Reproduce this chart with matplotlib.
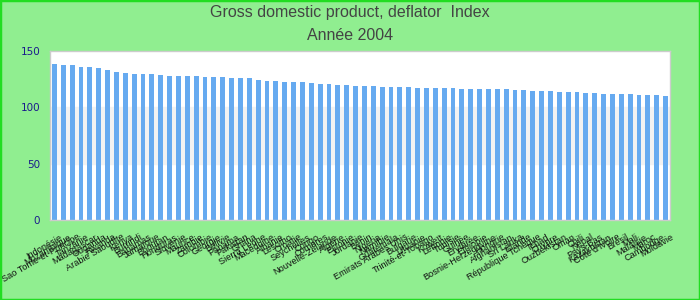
import matplotlib
matplotlib.use("Agg")
import matplotlib.pyplot as plt
from matplotlib.patches import Rectangle
from matplotlib.transforms import ScaledTranslation

countries = [
    "Indonésie", "Mozambique", "Sao Tome-et-Principe", "Tanzanie", "Madagascar",
    "Ouganda", "Rwanda", "Arabie Saoudite", "Kenya", "Burundi",
    "Bahamas", "Jamaïque", "Bhoutan", "Honduras", "Slovénie",
    "Maurice", "Zambie", "Colombie", "Géorgie", "Bolivie",
    "Panama", "Pakistan", "Ghana", "Sierra Leone", "Macédoine",
    "Albanie", "Lesotho", "Croatie", "Seychelles", "Congo",
    "Comores", "Nouvelle-Zélande", "Algérie", "Estonie", "Jordanie",
    "Bénin", "Nigeria", "Namibie", "Guatemala", "Emirats Arabes Unis",
    "Bulgarie", "Lituanie", "Trinité-et-Tobago", "Koweït", "Lettonie",
    "Tunisie", "Guinée", "Erythrée", "Ethiopie", "Bosnie-Herzégovine",
    "Hongrie", "Afghanistan", "Sri Lanka", "Islande", "République Tchèque",
    "Tchad", "Chypre", "Ouzbékistan", "Oman", "Chili",
    "Népal", "Pays-Bas", "Kazakhstan", "Côte d'Ivoire", "Brésil",
    "Mali", "Malaisie", "Maroc", "Cambodge", "Moldavie",
]

values = [
    138.9, 138.0, 138.0, 136.2, 136.2, 134.5, 132.7, 131.8, 130.9, 130.0,
    130.0, 130.0, 129.1, 128.2, 128.2, 128.2, 128.2, 127.3, 127.3, 127.3,
    126.4, 126.4, 125.6, 124.7, 123.8, 123.8, 122.9, 122.9, 122.9, 122.0,
    121.1, 121.1, 120.2, 120.2, 119.3, 119.3, 119.3, 118.4, 118.4, 118.4,
    118.4, 117.5, 117.5, 117.5, 117.5, 117.5, 116.7, 116.7, 116.7, 116.7,
    116.7, 116.7, 115.8, 115.8, 114.9, 114.9, 114.9, 114.0, 114.0, 114.0,
    113.1, 113.1, 112.2, 112.2, 112.2, 112.2, 111.3, 111.3, 111.3, 110.5,
]

yticks = [0, 50, 100, 150]
title_line1 = "Gross domestic product, deflator  Index"
title_line2 = "Année 2004"

fig = plt.figure(figsize=(7, 3), dpi=100, facecolor="#90ee90")
ax = fig.add_axes([50 / 700, 80 / 300, 620 / 700, 169 / 300])
ax.set_facecolor("white")

# alternating band
ax.axhspan(50, 100, color="#f2f2f2", zorder=0)

x = list(range(len(values)))
ax.bar(x, values, width=0.56, color="#66aaf0", zorder=2)

ax.set_xlim(-0.5, len(values) - 0.5)
ax.set_ylim(0, 150)
ax.set_yticks(yticks)
ax.set_yticklabels([str(v) for v in yticks], fontsize=7.5, color="#1a1a8c",
                   family="DejaVu Sans")
ax.tick_params(axis="y", length=0, pad=7)
ax.tick_params(axis="x", length=0, pad=9)
ax.set_xticks(x)
ax.set_xticklabels(countries, rotation=30, ha="right", rotation_mode="anchor",
                   fontsize=6.6, family="Liberation Sans", color="#111111")
shift = ScaledTranslation(5 / 100, 0, fig.dpi_scale_trans)
for lbl in ax.get_xticklabels():
    lbl.set_transform(lbl.get_transform() + shift)

for s in ax.spines.values():
    s.set_color("#cccccc")
    s.set_linewidth(1)

fig.text(0.5, 1 - 13 / 300, title_line1, ha="center", va="center",
         fontsize=11.5, color="#444444", family="Liberation Sans")
fig.text(0.5, 1 - 36 / 300, title_line2, ha="center", va="center",
         fontsize=11.5, color="#444444", family="Liberation Sans")

fig.add_artist(Rectangle((0, 0), 1, 1, transform=fig.transFigure, fill=False,
                         edgecolor="#22dd22", linewidth=2.5))

fig.savefig("out.png", dpi=100, facecolor=fig.get_facecolor())
